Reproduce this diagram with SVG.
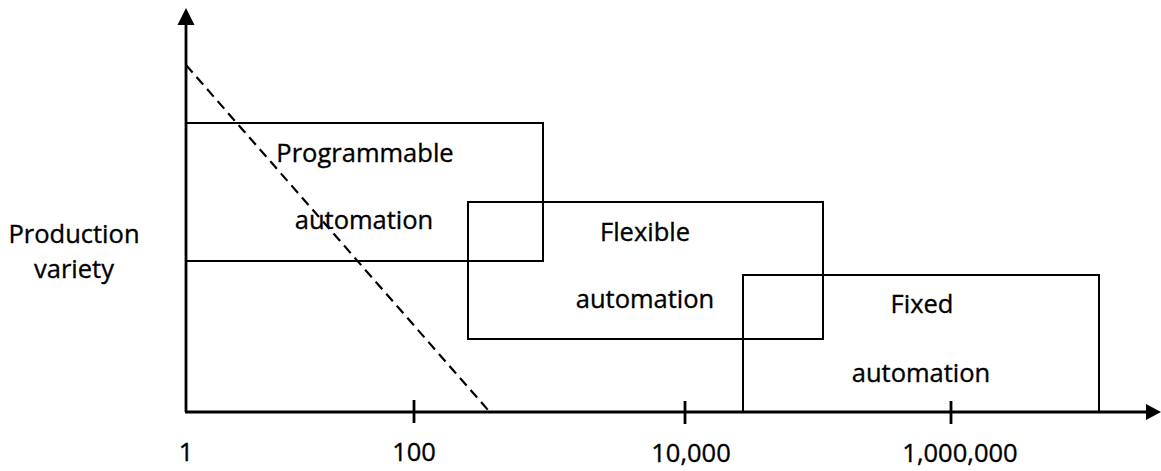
<svg xmlns="http://www.w3.org/2000/svg" width="1161" height="471" viewBox="0 0 1161 471">
<defs>
<style>
.t{font-family:"Open Sans","Liberation Sans",sans-serif;font-size:25.5px;fill:#000;stroke:#000;stroke-width:0.35;text-anchor:middle}
.box{fill:none;stroke:#000;stroke-width:2}
.ax{stroke:#000;stroke-width:2.8;fill:none}
</style>
</defs>
<rect width="1161" height="471" fill="#fff"/>
<g id="connectors">
<line class="ax" x1="186" y1="22" x2="186" y2="412"/>
<polygon points="186,8 177.5,25 194.5,25" fill="#000"/>
<line class="ax" x1="185" y1="412" x2="1148" y2="412"/>
<polygon points="1161,412 1146,404 1146,420" fill="#000"/>
<line class="ax" x1="414" y1="400" x2="414" y2="423"/>
<line class="ax" x1="685" y1="401" x2="685" y2="424"/>
<line class="ax" x1="951" y1="401" x2="951" y2="424"/>
<line x1="186" y1="65" x2="488" y2="410" stroke="#000" stroke-width="2.2" stroke-dasharray="10,6"/>
</g>
<g id="programmable">
<rect class="box" x="186" y="123" width="357" height="138"/>
<text class="t" x="365" y="162">Programmable</text>
<text class="t" x="364" y="229">automation</text>
</g>
<g id="flexible">
<rect class="box" x="468" y="202" width="355" height="137"/>
<text class="t" x="645" y="241">Flexible</text>
<text class="t" x="645" y="308">automation</text>
</g>
<g id="fixed">
<rect class="box" x="743" y="275" width="356" height="137"/>
<text class="t" x="922" y="313">Fixed</text>
<text class="t" x="921" y="382">automation</text>
</g>
<g id="labels">
<text class="t" x="74" y="243">Production</text>
<text class="t" x="74" y="278">variety</text>
<text class="t" x="186" y="461">1</text>
<text class="t" x="414" y="461">100</text>
<text class="t" x="691" y="462">10,000</text>
<text class="t" x="960" y="462">1,000,000</text>
</g>
</svg>
